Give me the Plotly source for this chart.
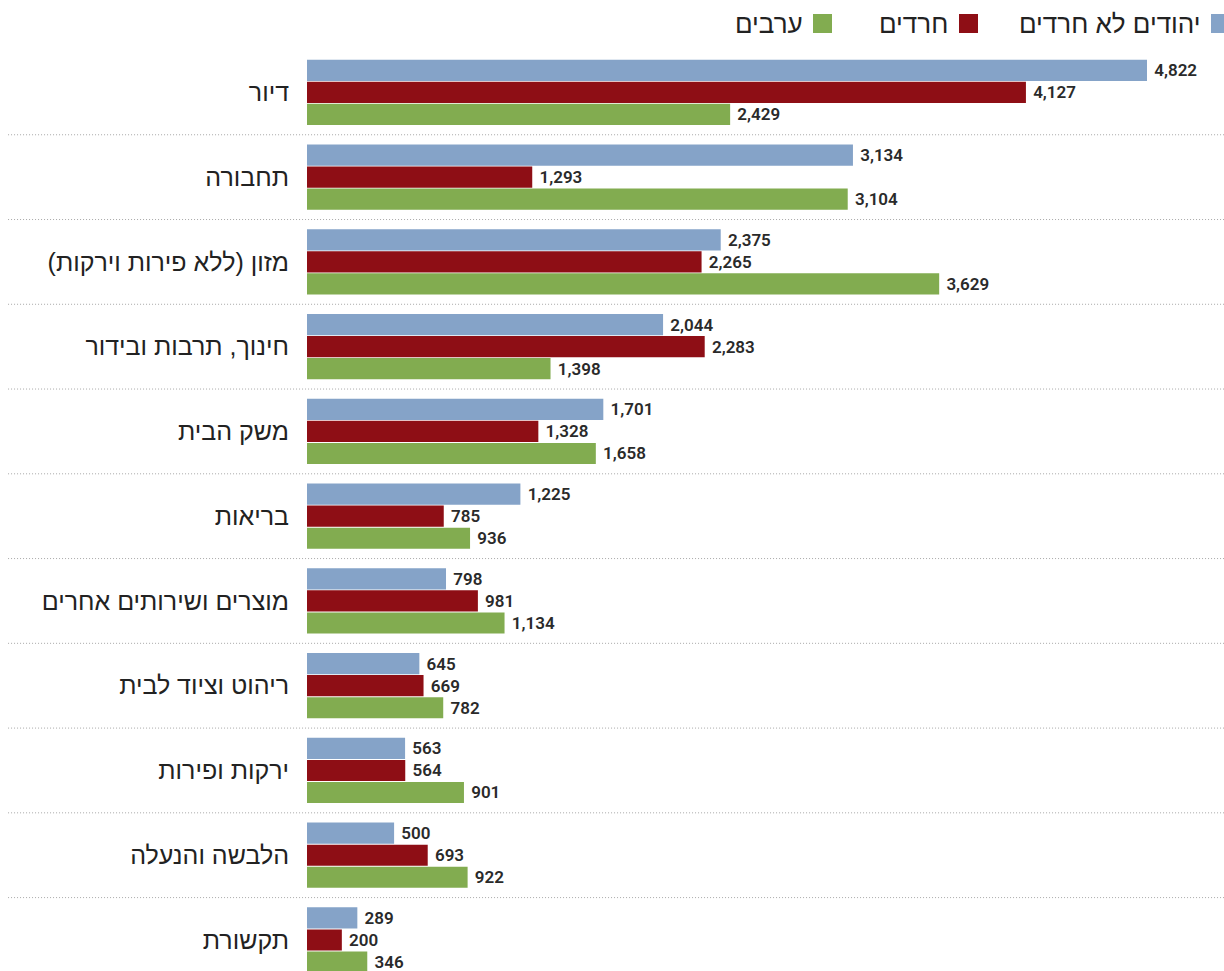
import plotly.graph_objects as go

categories = ["דיור", "תחבורה", "מזון (ללא פירות וירקות)", "חינוך, תרבות ובידור",
              "משק הבית", "בריאות", "מוצרים ושירותים אחרים", "ריהוט וציוד לבית",
              "ירקות ופירות", "הלבשה והנעלה", "תקשורת"]
series_names = ["יהודים לא חרדים", "חרדים", "ערבים"]
jews_non_haredi = [4822, 3134, 2375, 2044, 1701, 1225, 798, 645, 563, 500, 289]
haredi = [4127, 1293, 2265, 2283, 1328, 785, 981, 669, 564, 693, 200]
arabs = [2429, 3104, 3629, 1398, 1658, 936, 1134, 782, 901, 922, 346]
colors = ["#85A3C8", "#8E0E15", "#82AC50"]

fig = go.Figure()
for name, vals, col in zip(series_names, [jews_non_haredi, haredi, arabs], colors):
    fig.add_trace(go.Bar(
        y=categories, x=vals, orientation="h", name=name,
        marker=dict(color=col, line=dict(width=0)),
        texttemplate=" %{x:,}", textposition="outside",
        textfont=dict(family="Roboto, Lato, sans-serif", size=17, color="#2a2a2a", weight=600),
        cliponaxis=False, showlegend=False,
    ))

# dotted separators between categories
for i in range(len(categories) - 1):
    fig.add_shape(type="line", xref="paper", yref="y",
                  x0=-0.326, x1=1.0, y0=i + 0.5, y1=i + 0.5,
                  line=dict(color="#a8a8a8", width=1, dash="1px,2px"))

# custom RTL legend (text to the left of the swatch)
legend_items = [(series_names[0], colors[0], 1211, 1203),
                (series_names[1], colors[1], 959, 950),
                (series_names[2], colors[2], 813, 805)]
for name, col, sq_x, txt_x in legend_items:
    fig.add_shape(type="rect", xref="paper", yref="paper",
                  x0=(sq_x - 307) / 917, x1=(sq_x + 19 - 307) / 917,
                  y0=(971 - 33) / 921, y1=(971 - 14) / 921,
                  fillcolor=col, line=dict(width=0), layer="above")
    fig.add_annotation(xref="paper", yref="paper",
                       x=(txt_x - 307) / 917, y=(971 - 24) / 921,
                       xanchor="right", yanchor="middle", showarrow=False,
                       text=name, font=dict(family="Liberation Sans, Arial, sans-serif",
                                            size=26, color="#222222"))

fig.update_layout(
    barmode="group", bargap=0.22, bargroupgap=0.04,
    width=1224, height=971,
    margin=dict(l=307, r=0, t=50, b=0),
    plot_bgcolor="white", paper_bgcolor="white",
    xaxis=dict(range=[0, 5264], visible=False, fixedrange=True),
    yaxis=dict(categoryorder="array", categoryarray=categories,
               range=[10.366, -0.5], showgrid=False, showline=False,
               ticks="", ticklabelstandoff=17, fixedrange=True,
               tickfont=dict(family="Liberation Sans, Arial, sans-serif", size=25, color="#222222")),
    showlegend=False,
)

fig.write_html("out.html", config={"displayModeBar": False, "staticPlot": True},
               post_script="document.body.style.margin='0';document.body.style.overflow='hidden';")
